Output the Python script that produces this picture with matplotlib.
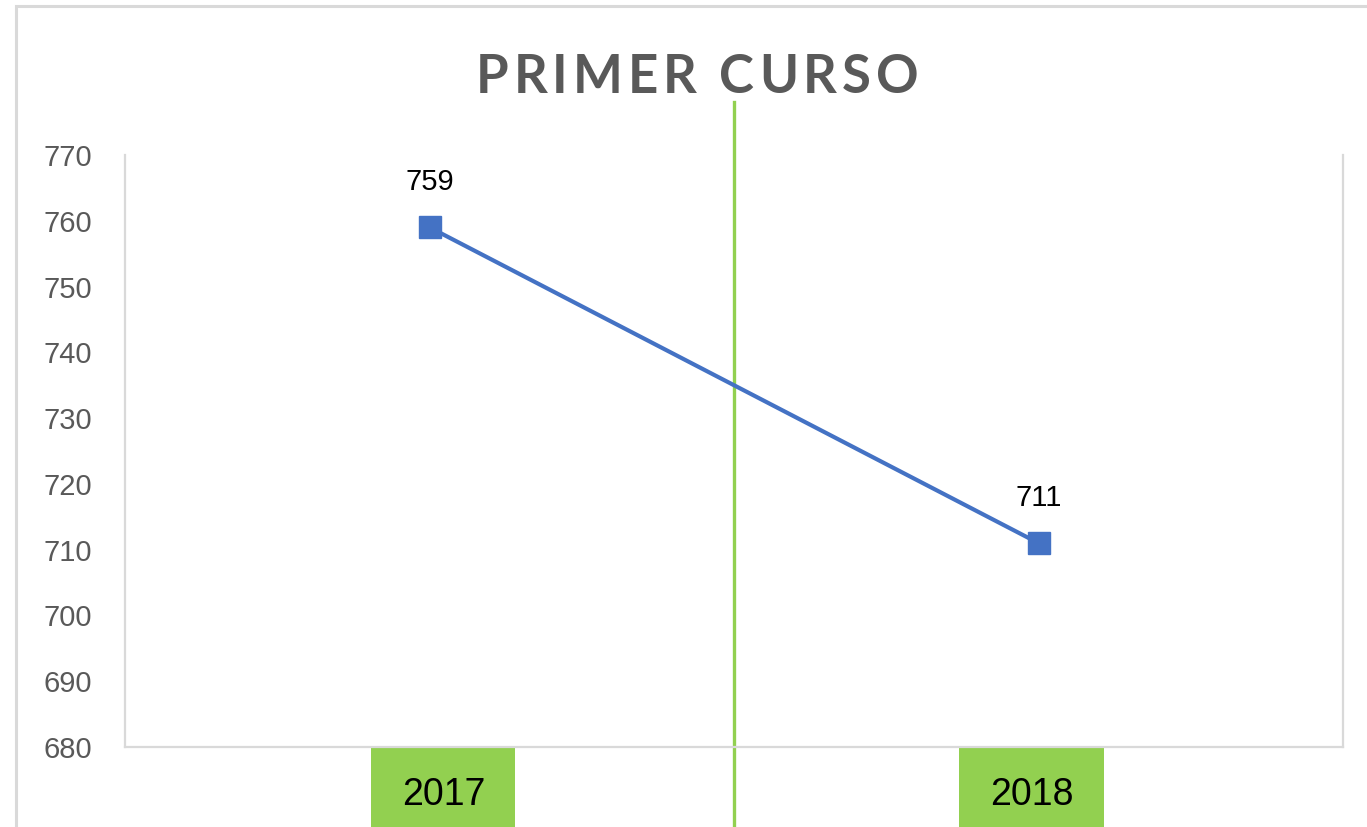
import matplotlib.pyplot as plt
import matplotlib.transforms as mtransforms
from matplotlib.patches import Rectangle

# datos
years = ['2017', '2018']
alumnos = [759, 711]
y_ticks = list(range(680, 771, 10))
titulo = 'PRIMER CURSO'

W, H = 1367, 827
fig = plt.figure(figsize=(W / 100, H / 100), dpi=100)
ax = fig.add_axes([125 / W, 1 - 747 / H, 1218 / W, 592 / H])

x = list(range(len(years)))
ax.plot(x, alumnos, color='#4472c4', lw=3, marker='s', markersize=16, zorder=3)
for xi, v in zip(x, alumnos):
    ax.annotate(str(v), (xi, v), xytext=(0, 27), textcoords='offset points',
                ha='center', va='baseline', fontsize=21, color='black',
                family='Liberation Sans')

ax.set_xlim(-0.5, 1.5)
ax.set_ylim(680, 770)
ax.set_yticks(y_ticks)
ax.set_xticks(x)
ax.set_xticklabels(years)
ax.tick_params(axis='y', length=0, pad=24, labelsize=21, labelcolor='#595959')
ax.tick_params(axis='x', length=0, pad=21.5, labelsize=27, labelcolor='black')
for lab in ax.get_yticklabels() + ax.get_xticklabels():
    lab.set_family('Liberation Sans')
# las cajas verdes de las etiquetas estan algo desplazadas en el original
desplaz = [10, -5]
for lab, dx in zip(ax.get_xticklabels(), desplaz):
    lab.set_bbox(dict(facecolor='#92d050', edgecolor='none', pad=22))
    lab.set_transform(lab.get_transform() +
                      mtransforms.ScaledTranslation(dx / 72, 0, fig.dpi_scale_trans))

ax.spines['top'].set_visible(False)
for s in ['left', 'bottom', 'right']:
    ax.spines[s].set_color('#d9d9d9')
    ax.spines[s].set_linewidth(1.6)

# linea verde vertical
ax.axvline(0.5, ymin=-0.2, ymax=1.09, color='#92d050', lw=2.4, clip_on=False, zorder=1)

# borde del grafico
fig.add_artist(Rectangle((16 / W, -0.1), 1.2, 1.1 - 6.5 / H, transform=fig.transFigure,
                         fill=False, edgecolor='#d9d9d9', lw=2.2))

# titulo con espaciado entre letras
r = fig.canvas.get_renderer()
kw = dict(fontsize=38, fontweight='bold', color='#595959', family='Lato', va='baseline')
widths = []
for ch in titulo:
    if ch == ' ':
        widths.append(0)
        continue
    t = fig.text(0, 0, ch, **kw)
    widths.append(t.get_window_extent(r).width)
    t.remove()
gap, word_gap = 5, 22
total = 0
for i, w in enumerate(widths):
    total += w
    if i < len(titulo) - 1:
        total += 0 if titulo[i] == ' ' or titulo[i + 1] == ' ' else gap
    if titulo[i] == ' ':
        total += word_gap
px = 697 - total / 2
for i, (ch, w) in enumerate(zip(titulo, widths)):
    if ch == ' ':
        px += word_gap
        continue
    fig.text(px / W, 1 - 93 / H, ch, ha='left', **kw)
    px += w
    if i < len(titulo) - 1 and titulo[i + 1] != ' ':
        px += gap

fig.savefig('out.png', dpi=100)
